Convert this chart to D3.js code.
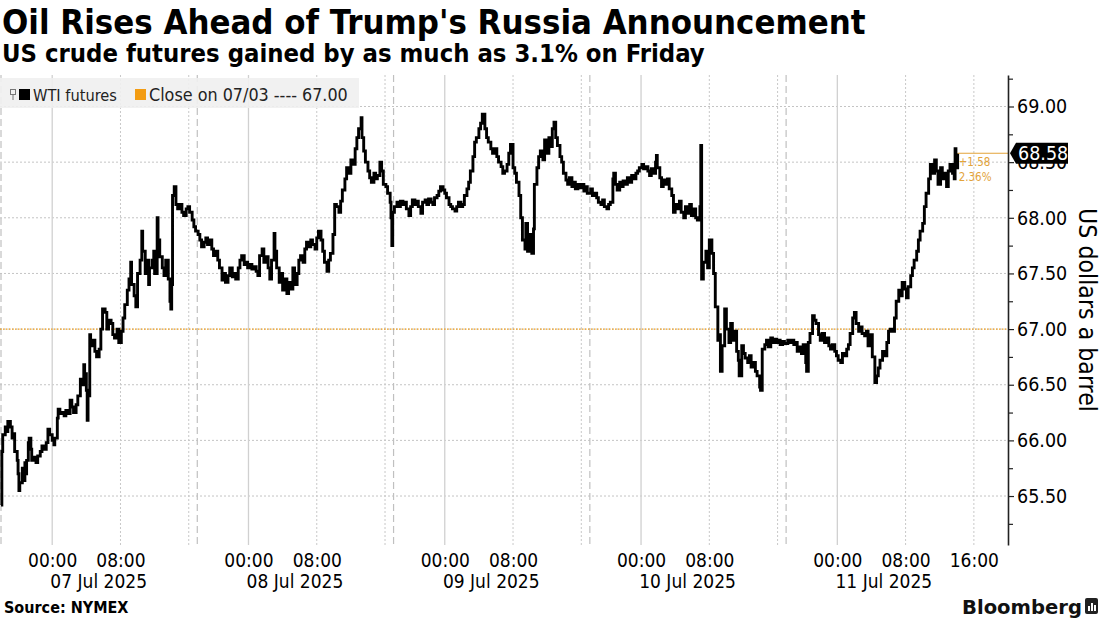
<!DOCTYPE html>
<html><head><meta charset="utf-8">
<script src="https://cdn.jsdelivr.net/npm/d3@7"></script>
<style>body{margin:0;background:#fff}svg{display:block}</style>
</head><body>
<svg id="chart" width="1100" height="619"></svg>
<script>
// ---- DATA (time = trading hours since the Sun 06 Jul 18:00 ET open; daily 17:00-18:00 break removed) ----
const s1Hours=[0.0,0.1,0.2,0.5,0.7,0.8,1.1,1.3,1.5,1.6,1.9,2.0,2.1,2.2,2.5,2.6,2.8,2.9,3.0,3.2,3.3,3.5,3.6,3.9,4.1,4.3,4.6,4.8,5.0,5.3,5.5,5.7,6.0,6.2,6.3,6.6,6.7,6.9,7.1,7.4,7.6,7.8,8.1,8.3,8.5,8.8,9.0,9.3,9.5,9.7,9.8,10.0,10.1,10.2,10.4,10.5,10.8,11.0,11.2,11.5,11.7,11.9,12.2,12.4,12.6,12.9,13.1,13.3,13.6,13.8,14.1,14.3,14.5,14.8,15.0,15.2,15.3,15.6,15.8,16.0,16.3,16.5,16.6,16.9,17.1,17.3,17.4,17.7,17.9,18.0,18.3,18.4,18.6,18.9,19.1,19.3,19.6,19.8,19.9,20.0,20.1,20.3,20.5,20.7,21.0,21.2,21.4,21.7,21.9,22.1,22.4,22.6,22.8];
const s1Prices=[65.42,65.90,66.05,66.12,66.08,66.17,66.12,66.02,66.06,65.90,65.82,65.70,65.55,65.62,65.75,65.64,65.80,65.70,65.82,65.98,66.02,65.92,65.82,65.85,65.80,65.86,65.90,65.95,65.92,65.98,66.10,66.05,66.00,65.96,66.02,66.20,66.28,66.24,66.25,66.22,66.27,66.24,66.36,66.30,66.25,66.32,66.40,66.55,66.50,66.68,66.60,66.45,66.18,66.40,66.95,66.85,66.90,66.80,66.75,66.82,67.00,67.18,67.15,67.00,67.08,67.05,66.95,66.92,67.00,66.88,66.98,67.10,67.22,67.35,67.45,67.60,67.40,67.30,67.20,67.50,67.62,67.88,67.70,67.50,67.62,67.40,67.55,67.62,67.70,67.50,68.00,67.80,67.65,67.55,67.48,67.62,67.45,67.25,67.18,67.40,68.20,68.28,68.12,68.08,68.12,68.05,68.02,68.08,68.10,68.05,67.98,67.92,67.88];
const s2Hours=[23.1,23.3,23.5,23.8,24.0,24.2,24.5,24.7,24.9,25.2,25.4,25.6,25.9,26.1,26.3,26.6,26.8,27.1,27.3,27.5,27.8,28.0,28.2,28.5,28.7,28.9,29.2,29.4,29.6,29.9,30.1,30.3,30.6,30.8,31.0,31.3,31.5,31.7,32.0,32.1,32.3,32.6,32.8,33.0,33.3,33.5,33.7,34.0,34.2,34.4,34.7,34.9,35.1,35.4,35.6,35.8,36.1,36.3,36.5,36.8,37.0,37.2,37.5,37.7,37.9,38.2,38.4,38.6,38.9,39.1,39.3,39.6,39.8,40.0,40.3,40.5,40.8,41.0,41.2,41.5,41.7,41.9,42.2,42.3,42.5,42.7,43.0,43.2,43.4,43.7,43.9,44.1,44.4,44.6,44.8,45.1,45.3,45.6,45.7,45.8,45.9];
const s2Prices=[67.85,67.80,67.74,67.78,67.82,67.76,67.80,67.72,67.66,67.70,67.62,67.55,67.44,67.50,67.42,67.48,67.55,67.47,67.50,67.45,67.55,67.62,67.66,67.58,67.60,67.55,67.58,67.54,67.56,67.52,67.48,67.66,67.72,67.60,67.65,67.55,67.45,67.62,67.86,67.70,67.55,67.42,67.50,67.35,67.45,67.32,67.42,67.36,67.55,67.40,67.50,67.62,67.66,67.60,67.72,67.78,67.74,67.80,67.76,67.72,67.82,67.88,67.80,67.70,67.60,67.52,67.62,67.68,67.85,68.12,68.10,68.05,68.15,68.25,68.35,68.45,68.40,68.52,68.48,68.62,68.72,68.80,68.90,68.72,68.60,68.50,68.42,68.36,68.32,68.40,68.35,68.38,68.50,68.42,68.30,68.28,68.22,68.14,68.00,67.75,68.05];
const s3Hours=[46.1,46.4,46.6,46.8,47.1,47.3,47.5,47.8,48.0,48.2,48.5,48.7,48.9,49.2,49.4,49.7,49.9,50.1,50.4,50.6,50.8,51.1,51.3,51.5,51.8,52.0,52.2,52.5,52.7,52.9,53.2,53.4,53.6,53.9,54.1,54.3,54.6,54.8,55.0,55.3,55.5,55.7,56.0,56.2,56.4,56.7,56.9,57.1,57.4,57.6,57.8,58.1,58.3,58.6,58.8,59.0,59.3,59.5,59.7,60.0,60.2,60.4,60.7,60.9,61.1,61.4,61.5,61.7,61.9,62.2,62.4,62.5,62.8,63.0,63.2,63.5,63.7,63.9,64.2,64.4,64.6,64.8,65.0,65.2,65.5,65.7,65.9,66.2,66.4,66.6,66.9,67.1,67.3,67.6,67.8,68.0,68.3,68.5,68.7];
const s3Prices=[68.10,68.14,68.10,68.15,68.12,68.14,68.08,68.02,68.10,68.16,68.12,68.15,68.10,68.04,68.14,68.16,68.12,68.17,68.14,68.12,68.18,68.20,68.24,68.28,68.25,68.22,68.18,68.12,68.10,68.08,68.06,68.10,68.14,68.10,68.12,68.20,68.26,68.32,68.42,68.55,68.68,68.72,68.80,68.85,68.93,68.80,68.72,68.68,68.62,68.58,68.62,68.55,68.50,68.46,68.40,68.42,68.48,68.58,68.66,68.45,68.40,68.32,68.20,68.00,67.80,67.72,67.95,67.70,67.85,67.68,67.90,68.30,68.45,68.55,68.60,68.52,68.70,68.58,68.72,68.64,68.80,68.86,68.72,68.65,68.55,68.50,68.40,68.34,68.30,68.36,68.28,68.32,68.26,68.30,68.27,68.30,68.24,68.28,68.22];
const s4Hours=[69.1,69.3,69.6,69.8,70.0,70.3,70.5,70.7,71.0,71.2,71.4,71.7,71.8,72.0,72.2,72.5,72.7,72.9,73.2,73.4,73.7,73.9,74.1,74.4,74.6,74.8,75.1,75.3,75.5,75.8,76.0,76.2,76.5,76.7,76.8,76.9,77.2,77.4,77.6,77.9,78.1,78.3,78.6,78.8,79.0,79.3,79.5,79.7,80.0,80.2,80.4,80.7,80.9,81.2,81.4,81.6,81.9,82.0,82.1,82.3,82.6,82.8,83.0,83.3,83.5,83.7,84.0,84.2,84.3,84.5,84.8,85.0,85.3,85.5,85.7,86.0,86.2,86.4,86.5,86.8,87.0,87.2,87.5,87.7,87.9,88.2,88.4,88.6,88.9,89.0,89.2,89.5,89.7,89.9,90.2,90.4,90.6,90.9,91.1,91.3,91.6,91.8];
const s4Prices=[68.26,68.20,68.22,68.18,68.14,68.12,68.16,68.10,68.08,68.12,68.14,68.35,68.40,68.30,68.25,68.32,68.28,68.33,68.30,68.36,68.32,68.38,68.35,68.40,68.42,68.45,68.48,68.44,68.46,68.42,68.38,68.44,68.40,68.50,68.56,68.45,68.36,68.28,68.34,68.30,68.35,68.26,68.20,68.05,68.12,68.08,68.15,68.05,68.00,68.10,68.04,68.12,68.02,68.08,68.00,67.98,68.10,68.65,67.45,67.60,67.70,67.55,67.80,67.68,67.50,67.20,66.90,66.95,66.62,66.85,67.18,67.00,66.88,67.05,66.90,66.98,66.80,66.72,66.58,66.85,66.78,66.74,66.70,66.76,66.66,66.70,66.62,66.58,66.48,66.45,66.82,66.86,66.90,66.84,66.92,66.88,66.91,66.88,66.90,66.86,66.89,66.87];
const s5Hours=[92.2,92.4,92.6,92.9,93.1,93.3,93.6,93.8,94.0,94.3,94.4,94.6,94.8,95.1,95.3,95.5,95.8,96.0,96.2,96.5,96.7,97.0,97.2,97.4,97.7,97.9,98.1,98.4,98.6,98.8,99.1,99.3,99.5,99.8,100.0,100.2,100.5,100.7,100.9,101.2,101.4,101.6,101.9,102.1,102.4,102.6,102.8,103.0,103.3,103.5,103.8,104.0,104.2,104.5,104.7,104.9,105.2,105.4,105.6,105.9,106.1,106.3,106.6,106.8,107.0,107.3,107.5,107.7,108.0,108.2,108.4,108.7,108.9,109.1,109.4,109.6,109.8,110.1,110.3,110.5,110.8,111.0,111.2,111.5,111.7,111.8,111.9,112.1];
const s5Prices=[66.90,66.88,66.90,66.86,66.88,66.80,66.84,66.78,66.86,66.70,66.62,66.88,66.96,67.12,67.08,67.05,66.95,66.90,66.96,66.88,66.92,66.85,66.82,66.86,66.80,66.76,66.72,66.70,66.78,66.76,66.82,66.86,66.96,67.10,67.15,67.05,66.98,67.02,66.96,66.94,66.98,66.85,66.95,66.75,66.52,66.58,66.65,66.72,66.80,66.76,66.88,66.98,67.00,66.98,67.10,67.25,67.35,67.30,67.42,67.36,67.28,67.38,67.48,67.55,67.62,67.70,67.80,67.88,67.95,68.10,68.22,68.35,68.48,68.40,68.52,68.42,68.30,68.45,68.35,68.40,68.28,68.42,68.48,68.40,68.35,68.62,68.45,68.58];

const priorClose = 67.00;
const lastPrice = 68.58;
const changeLabel = "+1.58";
const changePctLabel = "2.36%";
const yTickValues = [65.5,66,66.5,67,67.5,68,68.5,69];
const yMinorValues = [65.25,65.75,66.25,66.75,67.25,67.75,68.25,68.75,69.25];
const midnightHours = [6,29,52,75,98];
const dayLabels = ["07 Jul 2025","08 Jul 2025","09 Jul 2025","10 Jul 2025","11 Jul 2025"];
const hourTickHours = [6,14,29,37,52,60,75,83,98,106,114];
const hourTickLabels = ["00:00","08:00","00:00","08:00","00:00","08:00","00:00","08:00","00:00","08:00","16:00"];
const intradayGridHours = [14,22,37,45,60,68,83,91,106,114];
const sessionBreakHours = [0,23,46,69,92];

// ---- BUILD ----
const hours = [].concat(s1Hours,s2Hours,s3Hours,s4Hours,s5Hours);
const prices = [].concat(s1Prices,s2Prices,s3Prices,s4Prices,s5Prices);
const series = hours.map((t,i)=>({t, p: prices[i]})).filter(d=>d.p!=null);

const FONT = "'DejaVu Sans Condensed','DejaVu Sans',sans-serif";
const svg = d3.select("#chart");
const pL=1, pR=1008, pT=75, pB=545;
const x = d3.scaleLinear().domain([0,118]).range([pL,pR]);
const y = d3.scaleLinear().domain([65.06,69.283]).range([pB,pT]);

function fit(sel, target){
  const len = sel.node().getComputedTextLength();
  const fs = parseFloat(sel.attr("font-size"));
  if (len>0) sel.attr("font-size", fs*target/len);
}

// titles
const title = svg.append("text").attr("x",2).attr("y",34).attr("font-family",FONT).attr("font-weight","bold")
  .attr("font-size",30).attr("fill","#000").text("Oil Rises Ahead of Trump's Russia Announcement");
fit(title,864);
const sub = svg.append("text").attr("x",2).attr("y",62).attr("font-family",FONT).attr("font-weight","bold")
  .attr("font-size",21).attr("fill","#000").text("US crude futures gained by as much as 3.1% on Friday");
fit(sub,703);

// grid
const g = svg.append("g");
g.selectAll(".hgrid").data(yTickValues).join("line")
  .attr("x1",0).attr("x2",pR).attr("y1",d=>y(d)).attr("y2",d=>y(d))
  .attr("stroke","#c4c4c4").attr("stroke-width",1).attr("stroke-dasharray","2,2");
g.selectAll(".vday").data(midnightHours).join("line")
  .attr("x1",d=>x(d)).attr("x2",d=>x(d)).attr("y1",pT).attr("y2",pB)
  .attr("stroke","#d0d0d0").attr("stroke-width",1.3);
g.selectAll(".vintra").data(intradayGridHours).join("line")
  .attr("x1",d=>x(d)).attr("x2",d=>x(d)).attr("y1",pT).attr("y2",pB)
  .attr("stroke","#c8c8c8").attr("stroke-width",1).attr("stroke-dasharray","2,2");
g.selectAll(".vsess").data(sessionBreakHours).join("line")
  .attr("x1",d=>Math.max(x(d),0.5)).attr("x2",d=>Math.max(x(d),0.5)).attr("y1",pT).attr("y2",pB)
  .attr("stroke","#c0c0c0").attr("stroke-width",1.2).attr("stroke-dasharray","7,4");

// legend
const lg = svg.append("g");
lg.append("rect").attr("x",0).attr("y",78).attr("width",359).attr("height",30).attr("fill","#efefef").attr("opacity",0.9);
lg.append("rect").attr("x",10.5).attr("y",89.5).attr("width",5).attr("height",5).attr("fill","none").attr("stroke","#777").attr("stroke-width",1);
lg.append("line").attr("x1",13).attr("x2",13).attr("y1",94.5).attr("y2",100).attr("stroke","#777").attr("stroke-width",1);
lg.append("rect").attr("x",19).attr("y",89).attr("width",11).attr("height",11).attr("fill","#000");
const lt1 = lg.append("text").attr("x",33).attr("y",100.5).attr("font-family",FONT).attr("font-size",16).attr("fill","#222").text("WTI futures");
fit(lt1,84);
lg.append("rect").attr("x",135).attr("y",89).attr("width",11).attr("height",11).attr("fill","#f39c12");
const lt2 = lg.append("text").attr("x",149).attr("y",100.5).attr("font-family",FONT).attr("font-size",16).attr("fill","#222").text("Close on 07/03 ---- 67.00");
fit(lt2,199);

// prior close line
svg.append("line").attr("x1",0).attr("x2",pR).attr("y1",y(priorClose)).attr("y2",y(priorClose))
  .attr("stroke","#f0a020").attr("stroke-width",1.4).attr("stroke-dasharray","1.5,1.5");

// price line
svg.append("path").datum(series)
  .attr("d", d3.line().x(d=>x(d.t)).y(d=>y(d.p)).curve(d3.curveStepAfter))
  .attr("fill","none").attr("stroke","#000").attr("stroke-width",2.9).attr("stroke-linejoin","miter");

// last-price connector + change labels
const lastT = hours[hours.length-1];
svg.append("line").attr("x1",x(lastT)).attr("x2",pR).attr("y1",y(lastPrice)).attr("y2",y(lastPrice))
  .attr("stroke","#e3a33a").attr("stroke-width",1.2);
svg.append("text").attr("x",x(lastT)+1).attr("y",y(lastPrice)+13).attr("font-family",FONT).attr("font-size",11.5)
  .attr("fill","#e3a33a").text(changeLabel);
svg.append("text").attr("x",x(lastT)+1).attr("y",y(lastPrice)+28).attr("font-family",FONT).attr("font-size",11.5)
  .attr("fill","#e3a33a").text(changePctLabel);

// y axis
const yAxis = d3.axisRight(y).tickValues(yTickValues).tickFormat(d3.format(".2f")).tickSize(6).tickPadding(3).tickSizeOuter(0);
const ya = svg.append("g").attr("transform",`translate(${pR},0)`).call(yAxis);
ya.select(".domain").attr("stroke","#222").attr("stroke-width",1.6);
ya.selectAll(".tick line").attr("stroke","#222").attr("stroke-width",1.2);
ya.selectAll(".tick text").attr("font-family",FONT).attr("font-size",19.5).attr("fill","#000");
const yMinor = d3.axisRight(y).tickValues(yMinorValues).tickFormat("").tickSize(5).tickSizeOuter(0);
const ym = svg.append("g").attr("transform",`translate(${pR},0)`).call(yMinor);
ym.select(".domain").remove();
ym.selectAll(".tick line").attr("stroke","#222").attr("stroke-width",1.2);

// y title
const yt = svg.append("text").attr("transform",`translate(1079,310) rotate(90)`).attr("text-anchor","middle")
  .attr("font-family",FONT).attr("font-size",20).attr("fill","#000").text("US dollars a barrel");
fit(yt,204);

// last price tag
const ly = y(lastPrice);
svg.append("path").attr("d",`M${pR+2},${ly} L${pR+8},${ly-10.5} L1068,${ly-10.5} L1068,${ly+10.5} L${pR+8},${ly+10.5} Z`).attr("fill","#000");
svg.append("text").attr("x",1018).attr("y",ly).attr("dy","0.36em").attr("font-family",FONT).attr("font-size",19.5)
  .attr("fill","#fff").text(d3.format(".2f")(lastPrice));

// x axis labels
const xAxis = d3.axisBottom(x).tickValues(hourTickHours).tickFormat((d,i)=>hourTickLabels[i]).tickSize(0).tickPadding(0);
const xa = svg.append("g").attr("transform",`translate(0,${pB})`).call(xAxis);
xa.select(".domain").remove();
xa.selectAll(".tick text").attr("font-family",FONT).attr("font-size",19).attr("fill","#000").attr("dy",null).attr("y",22);
const xDay = d3.axisBottom(x).tickValues(midnightHours).tickFormat((d,i)=>dayLabels[i]).tickSize(0).tickPadding(0);
const xd = svg.append("g").attr("transform",`translate(46,${pB})`).call(xDay);
xd.select(".domain").remove();
xd.selectAll(".tick text").attr("font-family",FONT).attr("font-size",19).attr("fill","#000").attr("dy",null).attr("y",43);

// footer
svg.append("text").attr("x",4).attr("y",613).attr("font-family",FONT).attr("font-weight","bold").attr("font-size",16)
  .attr("fill","#000").text("Source: NYMEX");
const bb = svg.append("text").attr("x",962).attr("y",614).attr("font-family","'DejaVu Sans',sans-serif").attr("font-weight","bold")
  .attr("font-size",21).attr("fill","#111").text("Bloomberg");
fit(bb,120);
svg.append("rect").attr("x",1085).attr("y",598).attr("width",13).attr("height",16).attr("rx",2).attr("fill","#222");
[[1088,606,2,5],[1091,603,2,8],[1094,605,2,6]].forEach(b=>svg.append("rect").attr("x",b[0]).attr("y",b[1]).attr("width",b[2]).attr("height",b[3]).attr("fill","#fff"));
</script>
</body></html>
